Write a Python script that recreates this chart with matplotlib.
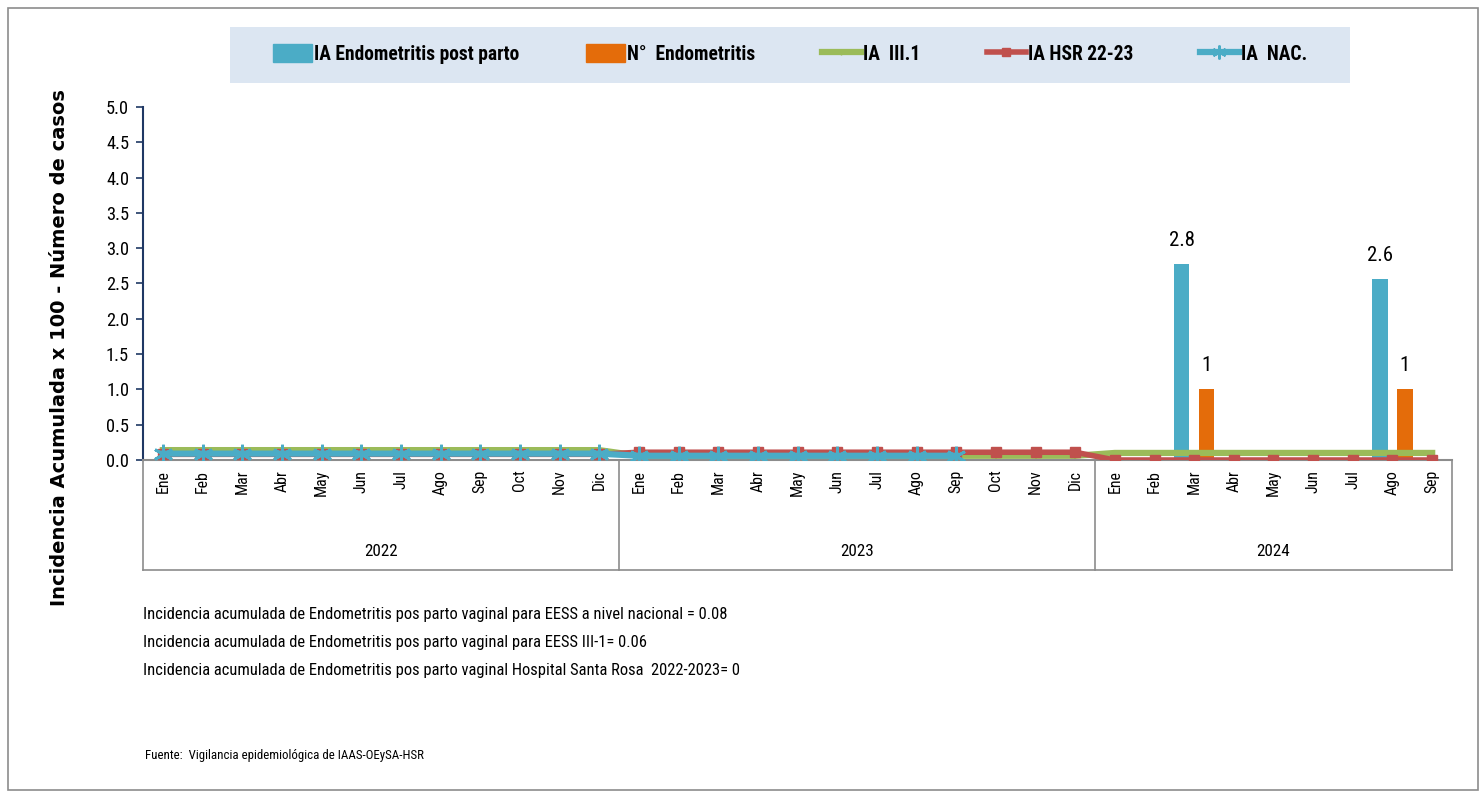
import numpy as np
import matplotlib.pyplot as plt
from matplotlib import font_manager
from matplotlib.patches import Rectangle
from matplotlib.lines import Line2D
import matplotlib.transforms as mtransforms

# =========================
# DATOS
# =========================
meses_22 = ["Ene", "Feb", "Mar", "Abr", "May", "Jun", "Jul", "Ago", "Sep", "Oct", "Nov", "Dic"]
meses_23 = ["Ene", "Feb", "Mar", "Abr", "May", "Jun", "Jul", "Ago", "Sep", "Oct", "Nov", "Dic"]
meses_24 = ["Ene", "Feb", "Mar", "Abr", "May", "Jun", "Jul", "Ago", "Sep"]
anios = ["2022", "2023", "2024"]

ia_endometritis = [0] * 12 + [0] * 12 + [0, 0, 2.77, 0, 0, 0, 0, 2.56, 0]
etiq_ia = [None] * 24 + [None, None, "2.8", None, None, None, None, "2.6", None]
n_endometritis = [0] * 12 + [0] * 12 + [0, 0, 1, 0, 0, 0, 0, 1, 0]
etiq_n = [None] * 24 + [None, None, "1", None, None, None, None, "1", None]
ia_iii1 = [0.14] * 12 + [0.06] * 12 + [0.1] * 9
ia_hsr = [0.08] * 12 + [0.11] * 12 + [0.0] * 9
ia_nac = [0.09] * 12 + [0.06] * 9 + [np.nan] * 12

notas = [
    "Incidencia acumulada de Endometritis pos parto vaginal para EESS a nivel nacional = 0.08",
    "Incidencia acumulada de Endometritis pos parto vaginal para EESS III-1= 0.06",
    "Incidencia acumulada de Endometritis pos parto vaginal Hospital Santa Rosa  2022-2023= 0",
]
fuente = "Fuente:  Vigilancia epidemiológica de IAAS-OEySA-HSR"
nombres = ["IA Endometritis post parto", "N°  Endometritis", "IA  III.1", "IA HSR 22-23", "IA  NAC."]

# =========================
# ESTILO
# =========================
AZUL = "#4BACC6"
NARANJA = "#E46C0A"
VERDE = "#9BBB59"
ROJO = "#C0504D"

# buscar una fuente estrecha si existe
disponibles = {f.name for f in font_manager.fontManager.ttflist}
condensadas = {f.name for f in font_manager.fontManager.ttflist
               if str(f.stretch) in ("condensed", "semi-condensed", "extra-condensed")}
ESTRECHA = {"family": ["DejaVu Sans"], "stretch": "normal"}
for nombre in ["Liberation Sans Narrow", "Roboto Condensed", "Open Sans Condensed", "Noto Sans Condensed"]:
    if nombre in disponibles:
        ESTRECHA = {"family": [nombre, "DejaVu Sans"], "stretch": "normal"}
        break
else:
    for nombre in ["Open Sans", "Noto Sans", "DejaVu Sans"]:
        if nombre in condensadas:
            ESTRECHA = {"family": [nombre, "DejaVu Sans"], "stretch": "condensed"}
            break
    else:
        ESTRECHA = {"family": ["Liberation Sans", "DejaVu Sans"], "stretch": "normal"}
ESCALA = 1.0 if ESTRECHA["stretch"] == "condensed" or "Narrow" in ESTRECHA["family"][0] else 0.88


def fs(v):
    return v * ESCALA


meses = meses_22 + meses_23 + meses_24
x = np.arange(len(meses))

fig = plt.figure(figsize=(14.84, 7.96), dpi=100)
ax = fig.add_axes([143 / 1484, 1 - 460 / 796, (1452 - 143) / 1484, (460 - 107) / 796])

# marco exterior
fig.add_artist(Rectangle((8 / 1484, 6 / 796), 1470 / 1484, 782 / 796, transform=fig.transFigure,
                         fill=False, edgecolor="#8C8C8C", lw=1.2))
# fondo de la leyenda
fig.add_artist(Rectangle((230 / 1484, 1 - 83 / 796), 1120 / 1484, 56 / 796, transform=fig.transFigure,
                         facecolor="#DCE6F2", edgecolor="none"))

# barras
ancho = 0.38
b1 = ax.bar(x - 0.315, ia_endometritis, width=ancho, color=AZUL, zorder=2)
b2 = ax.bar(x + 0.315, n_endometritis, width=ancho, color=NARANJA, zorder=2)
for barras, etiquetas in [(b1, etiq_ia), (b2, etiq_n)]:
    for rect, t in zip(barras, etiquetas):
        if t:
            ax.text(rect.get_x() + rect.get_width() / 2, rect.get_height() + 0.2, t,
                    ha="center", va="bottom", fontsize=fs(17), **ESTRECHA)

# lineas
ax.plot(x, ia_iii1, color=VERDE, lw=4.5, marker="|", ms=5, mew=1.5, zorder=3)
ax.plot(x, ia_hsr, color=ROJO, lw=4, marker="s", ms=6.5, zorder=4)
ax.plot(x, ia_nac, color=AZUL, lw=4.5, marker=(6, 2, 0), ms=14, mew=2, zorder=5)

# ejes
ax.set_xlim(-0.5, len(meses) - 0.5)
ax.set_ylim(0, 5)
ticks_y = np.arange(0, 5.01, 0.5)
ax.set_yticks(ticks_y)
ax.set_yticklabels([f"{v:.1f}" for v in ticks_y], fontsize=fs(15), **ESTRECHA)
ax.set_xticks(x)
ax.set_xticklabels(meses, rotation=90, fontsize=fs(13), **ESTRECHA)
ax.tick_params(axis="x", length=0, pad=7)
ax.tick_params(axis="y", length=5, width=1.2, color="#1F3864", pad=5)
for s in ["top", "right"]:
    ax.spines[s].set_visible(False)
ax.spines["left"].set_color("#1F3864")
ax.spines["left"].set_linewidth(1.5)
ax.spines["bottom"].set_color("#8C8C8C")
ax.spines["bottom"].set_linewidth(1.5)

fig.text(60 / 1484, 1 - 348 / 796, "Incidencia Acumulada x 100 - Número de casos", rotation=90,
         ha="center", va="center", fontsize=14, fontweight="bold", family="DejaVu Sans")

# agrupacion por años
trans = mtransforms.blended_transform_factory(ax.transData, ax.transAxes)
y_fondo = -110 / 353
limites = [-0.5, 11.5, 23.5, len(meses) - 0.5]
for lx in limites:
    ax.plot([lx, lx], [0, y_fondo], transform=trans, color="#8C8C8C", lw=1.2, clip_on=False)
ax.plot([limites[0], limites[-1]], [y_fondo, y_fondo], transform=trans, color="#8C8C8C", lw=1.2,
        clip_on=False)
for i, anio in enumerate(anios):
    ax.text((limites[i] + limites[i + 1]) / 2, -92 / 353, anio, transform=trans, ha="center",
            va="center", fontsize=fs(14), **ESTRECHA)

# leyenda
handles = [
    Rectangle((0, 0), 1, 1, color=AZUL),
    Rectangle((0, 0), 1, 1, color=NARANJA),
    Line2D([], [], color=VERDE, lw=4.5, marker="|", ms=5),
    Line2D([], [], color=ROJO, lw=4, marker="s", ms=6),
    Line2D([], [], color=AZUL, lw=4.5, marker=(6, 2, 0), ms=10, mew=1.5),
]
fig.legend(handles, nombres, loc="center", bbox_to_anchor=(790 / 1484, 1 - 54 / 796), ncol=5,
           frameon=False, handlelength=2.0, handleheight=1.0, handletextpad=0.1, columnspacing=3.4,
           prop={"family": ESTRECHA["family"], "stretch": ESTRECHA["stretch"], "weight": "bold",
                 "size": fs(16)})

# notas
for i, n in enumerate(notas):
    fig.text(143 / 1484, 1 - (614 + i * 28) / 796, n, ha="left", va="center", fontsize=fs(13.5),
             **ESTRECHA)
fig.text(145 / 1484, 1 - 755 / 796, fuente, ha="left", va="center", fontsize=fs(10.5), **ESTRECHA)

fig.savefig("out.png", dpi=100)
